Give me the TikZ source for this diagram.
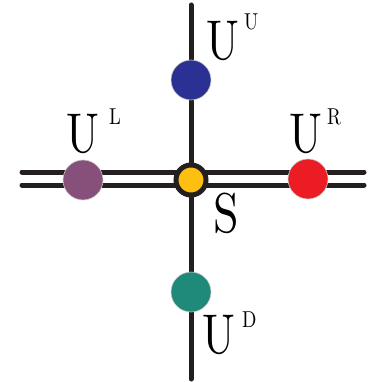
\documentclass[tikz,border=0pt]{standalone}
\usepackage{fontspec}
\newfontfamily\lmten{lmroman10-regular.otf}
\definecolor{lineblack}{HTML}{231F20}
\definecolor{cblue}{HTML}{2B3192}
\definecolor{cpurple}{HTML}{87507A}
\definecolor{cred}{HTML}{EC1C24}
\definecolor{cteal}{HTML}{1F8A7A}
\definecolor{cyellow}{HTML}{FDC010}
\begin{document}
\begin{tikzpicture}[x=1pt,y=-1pt,
  wire/.style={line width=5pt, lineblack, line cap=round},
  site/.style={circle, minimum size=40pt, inner sep=0pt, draw=white!80!black, line width=0.6pt},
  ssite/.style={circle, minimum size=30pt, inner sep=0pt, fill=cyellow, draw=lineblack, line width=5pt},
  big/.style={anchor=base west, inner sep=0pt, font=\lmten\fontsize{56}{56}\selectfont},
  sup/.style={anchor=base west, inner sep=0pt, font=\lmten\fontsize{23}{23}\selectfont}]
\useasboundingbox (0,0) rectangle (374,382);
\fill[white] (0,0) rectangle (374,382);
\coordinate (top) at (191,5);
\coordinate (bot) at (191,379);
\coordinate (lft) at (22,178.5);
\coordinate (rgt) at (364,178.5);
\draw[wire] (top) -- (bot);
\draw[wire] ([yshift=6.5pt]lft) -- ([yshift=6.5pt]rgt);
\draw[wire] ([yshift=-6.5pt]lft) -- ([yshift=-6.5pt]rgt);
\node[site, fill=cblue] (uu) at (191,80) {};
\node[site, fill=cpurple] (ul) at (83,180) {};
\node[site, fill=cred] (ur) at (308,179) {};
\node[site, fill=cteal] (ud) at (191,292) {};
\node[ssite] (s) at (191,180) {};
% labels
\node[big] (luu) at (206,60) {\scalebox{0.78}[1]{U}};
\node[sup] (luus) at (244,30) {\scalebox{0.82}[1]{U}};
\node[big] (lul) at (66,152) {\scalebox{0.78}[1]{U}};
\node[sup] (luls) at (109,125) {\scalebox{0.82}[1]{L}};
\node[big] (lur) at (289,152) {\scalebox{0.78}[1]{U}};
\node[sup] (lurs) at (327,125) {\scalebox{0.82}[1]{R}};
\node[big] (lud) at (202,353) {\scalebox{0.78}[1]{U}};
\node[sup] (luds) at (242,327) {\scalebox{0.82}[1]{D}};
\node[big] (ls) at (213,232) {\scalebox{0.82}[1]{S}};
\end{tikzpicture}
\end{document}
